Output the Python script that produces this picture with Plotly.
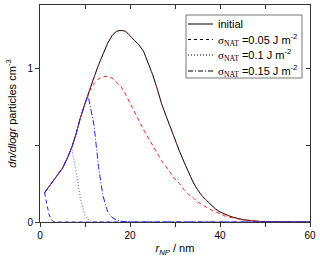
import plotly.graph_objects as go

# --- data ---
r_init = [1, 2, 3, 4, 5, 6, 7, 8, 9, 10, 11, 12, 13, 14, 15, 16, 17, 18, 19, 20,
          21, 22, 23, 24, 25, 26, 27, 28, 29, 30, 31, 32, 33, 34, 35, 36, 37, 38, 39, 40,
          41, 42, 43, 44, 45, 46, 47, 48, 49, 50, 52, 55, 60]
v_init = [0.19, 0.23, 0.27, 0.31, 0.35, 0.41, 0.48, 0.57, 0.68, 0.77, 0.86, 0.94, 1.02, 1.09, 1.16, 1.21, 1.24, 1.245, 1.24, 1.21,
          1.18, 1.15, 1.11, 1.04, 0.96, 0.87, 0.77, 0.69, 0.61, 0.53, 0.46, 0.39, 0.32, 0.26, 0.21, 0.17, 0.14, 0.11, 0.085, 0.065,
          0.05, 0.04, 0.03, 0.022, 0.016, 0.012, 0.008, 0.005, 0.003, 0.002, 0.001, 0.0, 0.0]

# red set
r_red05 = [1, 2, 3, 4, 5, 6, 7, 8, 9, 10, 11, 12, 13, 14, 15, 16, 17, 18, 19, 20,
           21, 22, 23, 24, 25, 26, 27, 28, 29, 30, 31, 32, 33, 34, 35, 36, 37, 38, 39, 40,
           41, 42, 43, 44, 45, 46, 47, 48, 49, 50, 52, 55, 60]
v_red05 = [0.19, 0.23, 0.27, 0.31, 0.35, 0.41, 0.48, 0.57, 0.68, 0.77, 0.85, 0.90, 0.93, 0.945, 0.945, 0.935, 0.91, 0.88, 0.83, 0.77,
           0.71, 0.65, 0.60, 0.55, 0.50, 0.45, 0.40, 0.36, 0.32, 0.28, 0.25, 0.21, 0.18, 0.16, 0.13, 0.11, 0.095, 0.08, 0.065, 0.05,
           0.04, 0.032, 0.025, 0.019, 0.014, 0.01, 0.007, 0.005, 0.003, 0.002, 0.001, 0.0, 0.0]
r_red10 = r_init
v_red10 = v_init

# blue set
r_blue05 = [1, 1.5, 2, 2.5, 3, 4, 10, 20, 30, 40, 50, 60]
v_blue05 = [0.19, 0.12, 0.05, 0.015, 0.003, 0.0, 0.0, 0.0, 0.0, 0.0, 0.0, 0.0]
r_blue10 = [1, 2, 3, 4, 5, 6, 7, 8, 9, 10, 11, 12, 13, 20, 30, 40, 50, 60]
v_blue10 = [0.19, 0.23, 0.27, 0.31, 0.35, 0.41, 0.49, 0.33, 0.15, 0.04, 0.008, 0.001, 0.0, 0.0, 0.0, 0.0, 0.0, 0.0]
r_blue15 = [1, 2, 3, 4, 5, 6, 7, 8, 9, 10, 10.7, 12, 13, 14, 15, 16, 17, 18, 19, 20, 30, 40, 50, 60]
v_blue15 = [0.19, 0.23, 0.27, 0.31, 0.35, 0.41, 0.48, 0.57, 0.68, 0.77, 0.82, 0.63, 0.36, 0.17, 0.07, 0.03, 0.013, 0.005, 0.002, 0.0, 0.0, 0.0, 0.0, 0.0]

legend_labels = [
    "initial",
    "<span style='font-family:Liberation Serif'>σ<sub>NAT</sub></span> =0.05 J m<sup>-2</sup>",
    "<span style='font-family:Liberation Serif'>σ<sub>NAT</sub></span> =0.1 J m<sup>-2</sup>",
    "<span style='font-family:Liberation Serif'>σ<sub>NAT</sub></span> =0.15 J m<sup>-2</sup>",
]
legend_dash = ["solid", "3px,3px", "1px,2px", "5px,2px,1px,2px"]

fig = go.Figure()

W = 1.0
fig.add_trace(go.Scatter(x=r_init, y=v_init, mode="lines", line=dict(color="black", width=W), showlegend=False))
fig.add_trace(go.Scatter(x=r_red10, y=v_red10, mode="lines", line=dict(color="#ff3030", width=W, dash="1px,3px"), showlegend=False))
fig.add_trace(go.Scatter(x=r_red05, y=v_red05, mode="lines", line=dict(color="#ff2020", width=W, dash="4px,3px"), showlegend=False))
fig.add_trace(go.Scatter(x=r_blue05, y=v_blue05, mode="lines", line=dict(color="#2020ff", width=W, dash="4px,3px"), showlegend=False))
fig.add_trace(go.Scatter(x=r_blue10, y=v_blue10, mode="lines", line=dict(color="#5050ff", width=W, dash="1px,2px"), showlegend=False))
fig.add_trace(go.Scatter(x=r_blue15, y=v_blue15, mode="lines", line=dict(color="#2020ff", width=W, dash="6px,2px,1px,2px"), showlegend=False))

# manual legend (paper coordinates)
PLOT_L, PLOT_R, PLOT_T, PLOT_B = 40, 310, 5, 222
def px(xp): return (xp - PLOT_L) / (PLOT_R - PLOT_L)
def py(yp): return (PLOT_B - yp) / (PLOT_B - PLOT_T)

shapes = [dict(type="rect", xref="paper", yref="paper", x0=px(186), x1=px(302), y0=py(78), y1=py(15),
               line=dict(color="#777777", width=1), fillcolor="white", layer="above")]
annotations = []
entry_y = [24, 39.5, 55, 71]
for lab, d, ey in zip(legend_labels, legend_dash, entry_y):
    shapes.append(dict(type="line", xref="paper", yref="paper", x0=px(188), x1=px(213), y0=py(ey), y1=py(ey),
                       line=dict(color="black", width=1, dash=d), layer="above"))
    annotations.append(dict(xref="paper", yref="paper", x=px(215.5), y=py(ey), text=lab, showarrow=False,
                            xanchor="left", yanchor="middle", font=dict(size=11, color="black")))

axcol = "#333333"
fig.update_layout(
    width=320, height=263,
    margin=dict(l=40, r=10, t=5, b=41),
    paper_bgcolor="white", plot_bgcolor="white",
    font=dict(family="Liberation Sans, Arial", size=10, color="black"),
    showlegend=False,
    shapes=shapes, annotations=annotations,
    xaxis=dict(range=[0, 60], tickmode="linear", tick0=0, dtick=20,
               ticks="outside", ticklen=4, tickcolor=axcol, tickwidth=1,
               minor=dict(dtick=10, ticks="outside", ticklen=4, tickcolor=axcol),
               showline=True, linecolor=axcol, linewidth=1, mirror=True,
               showgrid=False, zeroline=False, automargin=False, ticklabeloverflow="allow",
               title=dict(text="<i>r<sub>NP</sub></i> / nm", font=dict(size=11), standoff=4)),
    yaxis=dict(range=[0, 1.41], tickmode="array", tickvals=[0, 1], ticktext=["0", "1"],
               ticks="outside", ticklen=4, tickcolor=axcol, tickwidth=1,
               minor=dict(tickvals=[0.5], ticks="outside", ticklen=4, tickcolor=axcol),
               showline=True, linecolor=axcol, linewidth=1, mirror=True,
               showgrid=False, zeroline=False, automargin=False, ticklabeloverflow="allow",
               title=dict(text="<i>dn/dlogr</i> particles cm<sup>-3</sup>", font=dict(size=11), standoff=8)),
    xaxis2=dict(range=[0, 60], overlaying="x", side="top", tickmode="linear", tick0=0, dtick=10,
                ticks="inside", ticklen=4, tickcolor=axcol, showticklabels=False,
                showgrid=False, zeroline=False, showline=False, automargin=False),
    yaxis2=dict(range=[0, 1.41], overlaying="y", side="right", tickmode="array", tickvals=[0, 0.5, 1],
                ticks="inside", ticklen=4, tickcolor=axcol, showticklabels=False,
                showgrid=False, zeroline=False, showline=False, automargin=False),
)
# dummy trace to activate secondary axes
fig.add_trace(go.Scatter(x=[None], y=[None], xaxis="x2", yaxis="y2", showlegend=False))

fig.write_html("out.html", config={"displayModeBar": False},
               post_script="document.body.style.margin='0';document.body.style.padding='0';")
